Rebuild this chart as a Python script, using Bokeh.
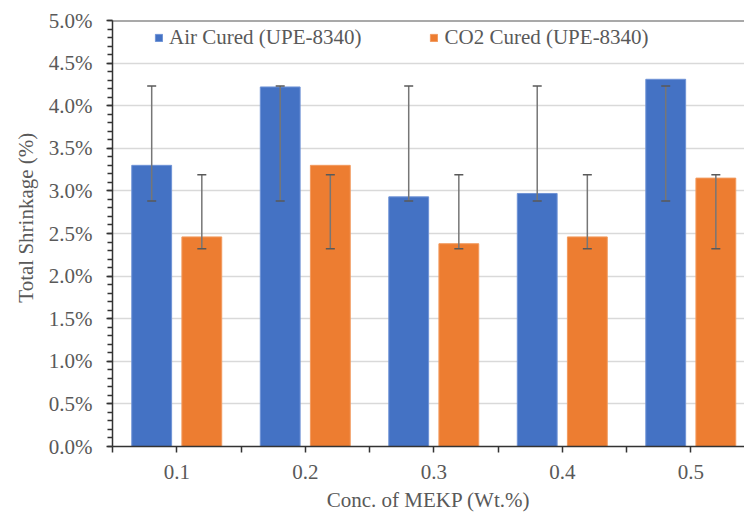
from bokeh.plotting import figure
from bokeh.models import (ColumnDataSource, Whisker, TeeHead, FixedTicker,
                          PrintfTickFormatter, Span, Legend, LegendItem)
from bokeh.embed import file_html
from bokeh.resources import INLINE

# ---- data ----
categories = ["0.1", "0.2", "0.3", "0.4", "0.5"]
air_cured = [3.30, 4.22, 2.93, 2.97, 4.31]
co2_cured = [2.46, 3.30, 2.38, 2.46, 3.15]
air_err_lower = [2.88, 2.88, 2.88, 2.88, 2.88]
air_err_upper = [4.23, 4.23, 4.23, 4.23, 4.23]
co2_err_lower = [2.32, 2.32, 2.32, 2.32, 2.32]
co2_err_upper = [3.19, 3.19, 3.19, 3.19, 3.19]
y_ticks = [0.0, 0.5, 1.0, 1.5, 2.0, 2.5, 3.0, 3.5, 4.0, 4.5, 5.0]

FONT = "Liberation Serif"
FS = "21px"
TXT = "#595959"
BLUE = "#4472C4"
ORANGE = "#ED7D31"

xpos = list(range(1, len(categories) + 1))
off = 0.195
bw = 0.31

p = figure(width=744, height=514, output_backend="svg", toolbar_location=None,
           x_range=(0.5, 5.418), y_range=(0, 5.0),
           min_border_left=112, min_border_right=0, min_border_top=20, min_border_bottom=67)
p.outline_line_color = None
p.background_fill_color = "white"
p.border_fill_color = "white"

src_air = ColumnDataSource(dict(x=[v - off for v in xpos], top=air_cured,
                                lo=air_err_lower, hi=air_err_upper))
src_co2 = ColumnDataSource(dict(x=[v + off for v in xpos], top=co2_cured,
                                lo=co2_err_lower, hi=co2_err_upper))

r_air = p.vbar(x="x", top="top", width=bw, source=src_air, fill_color=BLUE, line_color="#6f93d6", line_width=1)
r_co2 = p.vbar(x="x", top="top", width=bw, source=src_co2, fill_color=ORANGE, line_color="#f29a5e", line_width=1)

for src in (src_air, src_co2):
    w = Whisker(base="x", lower="lo", upper="hi", source=src, level="annotation",
                line_color="#767676", line_width=1.5,
                upper_head=TeeHead(size=9, line_color="#595959", line_width=1.5),
                lower_head=TeeHead(size=9, line_color="#595959", line_width=1.5))
    p.add_layout(w)

# top border line
p.add_layout(Span(location=5.0, dimension="width", line_color="#555555", line_width=2))

# grid
p.xgrid.grid_line_color = None
p.ygrid.grid_line_color = "#d9d9d9"
p.ygrid.grid_line_width = 1.5

# y axis
p.yaxis.ticker = FixedTicker(ticks=y_ticks,
                             minor_ticks=[round(i * 0.1, 2) for i in range(0, 51)])
p.yaxis.formatter = PrintfTickFormatter(format="%.1f%%")
p.yaxis.axis_label = "\u00a0" * 6 + "Total Shrinkage (%)"
p.yaxis.axis_label_text_font = FONT
p.yaxis.axis_label_text_font_style = "normal"
p.yaxis.axis_label_text_font_size = FS
p.yaxis.axis_label_text_color = TXT
p.yaxis.axis_label_standoff = 8
p.yaxis.major_label_text_font = FONT
p.yaxis.major_label_text_font_size = FS
p.yaxis.major_label_text_color = TXT
p.yaxis.major_label_standoff = 14
p.yaxis.axis_line_color = "#333333"
p.yaxis.axis_line_width = 1.5
p.yaxis.major_tick_out = 6
p.yaxis.major_tick_in = 0
p.yaxis.minor_tick_out = 5
p.yaxis.minor_tick_in = 0
p.yaxis.major_tick_line_color = "#333333"
p.yaxis.minor_tick_line_color = "#333333"
p.yaxis.major_tick_line_width = 1.5
p.yaxis.minor_tick_line_width = 1.5

# x axis
p.xaxis.ticker = FixedTicker(ticks=xpos, minor_ticks=[v + 0.5 for v in [0] + xpos])
p.xaxis.major_label_overrides = {v: c for v, c in zip(xpos, categories)}
p.xaxis.axis_label = "Conc. of MEKP (Wt.%)"
p.xaxis.axis_label_text_font = FONT
p.xaxis.axis_label_text_font_style = "normal"
p.xaxis.axis_label_text_font_size = FS
p.xaxis.axis_label_text_color = TXT
p.xaxis.axis_label_standoff = 6
p.xaxis.major_label_text_font = FONT
p.xaxis.major_label_text_font_size = FS
p.xaxis.major_label_text_color = TXT
p.xaxis.major_label_standoff = 12
p.xaxis.axis_line_color = "#333333"
p.xaxis.axis_line_width = 1.5
p.xaxis.major_tick_out = 6
p.xaxis.major_tick_in = 0
p.xaxis.minor_tick_out = 6
p.xaxis.minor_tick_in = 0
p.xaxis.major_tick_line_color = "#333333"
p.xaxis.minor_tick_line_color = "#333333"
p.xaxis.major_tick_line_width = 1.5
p.xaxis.minor_tick_line_width = 1.5

legend = Legend(items=[LegendItem(label="Air Cured (UPE-8340)", renderers=[r_air]),
                       LegendItem(label="CO2 Cured (UPE-8340)", renderers=[r_co2])],
                orientation="horizontal", location=(42, 396),
                label_text_font=FONT, label_text_font_size=FS, label_text_color=TXT,
                glyph_width=9, glyph_height=9, label_standoff=6, spacing=68,
                border_line_color=None, background_fill_alpha=0, padding=2, margin=0)
p.add_layout(legend)

open("out.html", "w").write(file_html(p, INLINE))
